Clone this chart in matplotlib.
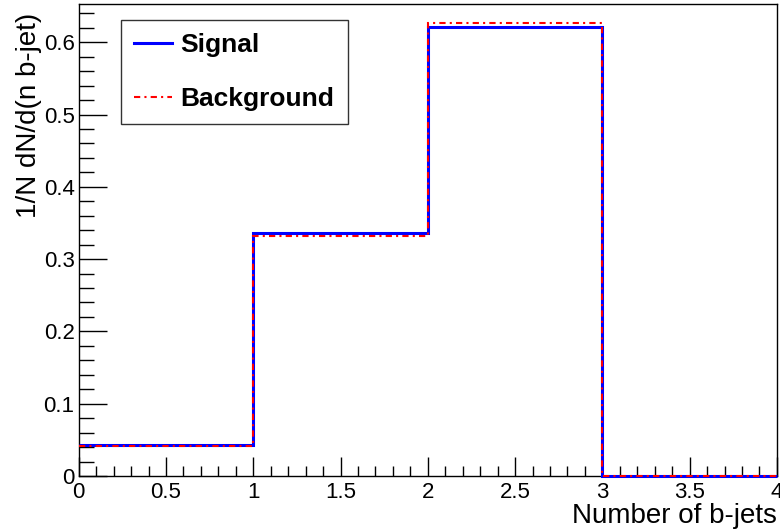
import numpy as np
import matplotlib.pyplot as plt
from matplotlib.ticker import MultipleLocator, FormatStrFormatter

plt.rcParams['font.family'] = ['Liberation Sans', 'DejaVu Sans']

# bordes de los bins y contenidos normalizados
bordes = [0, 1, 2, 3, 4]
senal = [0.043, 0.336, 0.621, 0.0]
fondo = [0.0415, 0.332, 0.627, 0.0]

fig = plt.figure(figsize=(7.8, 5.31), dpi=100)
ax = fig.add_axes([0.101, 0.1036, 0.895, 0.889])

ax.stairs(senal, bordes, baseline=None, color='#0000ff', linewidth=2.2,
          label='Signal', zorder=3, clip_on=False)
ax.stairs(fondo, bordes, baseline=None, color='#ff0000', linewidth=1.5,
          linestyle=(0, (3, 2, 1, 2)), label='Background', zorder=4, clip_on=False)

ax.set_xlim(0, 4)
ax.set_ylim(0, 0.653)

ax.xaxis.set_major_locator(MultipleLocator(0.5))
ax.xaxis.set_minor_locator(MultipleLocator(0.1))
ax.yaxis.set_major_locator(MultipleLocator(0.1))
ax.yaxis.set_minor_locator(MultipleLocator(0.02))
ax.xaxis.set_major_formatter(FormatStrFormatter('%g'))
ax.yaxis.set_major_formatter(FormatStrFormatter('%g'))

ax.tick_params(axis='x', which='major', direction='in', length=14, width=1, labelsize=16, pad=4)
ax.tick_params(axis='x', which='minor', direction='in', length=7, width=1)
ax.tick_params(axis='y', which='major', direction='in', length=20, width=1, labelsize=16, pad=3)
ax.tick_params(axis='y', which='minor', direction='in', length=11, width=1)
ax.tick_params(top=False, right=False, which='both')

for s in ax.spines.values():
    s.set_linewidth(1.0)

ax.set_xlabel('Number of b-jets', fontsize=20, loc='right')
ax.xaxis.set_label_coords(1.0, -0.084)
ax.xaxis.label.set_verticalalignment('center')
ax.set_ylabel('1/N dN/d(n b-jet)', fontsize=20, loc='top')
ax.yaxis.set_label_coords(-0.053, 0.981)

leg = ax.legend(loc='upper left', bbox_to_anchor=(0.0602, 0.0, 0.325, 0.966),
                mode='expand', prop={'weight': 'bold', 'size': 19},
                frameon=True, fancybox=False, edgecolor='black',
                handlelength=1.45, handletextpad=0.3, labelspacing=1.13,
                borderpad=0.5, borderaxespad=0)
leg.get_frame().set_linewidth(1.0)

fig.savefig('out.png', dpi=100)
